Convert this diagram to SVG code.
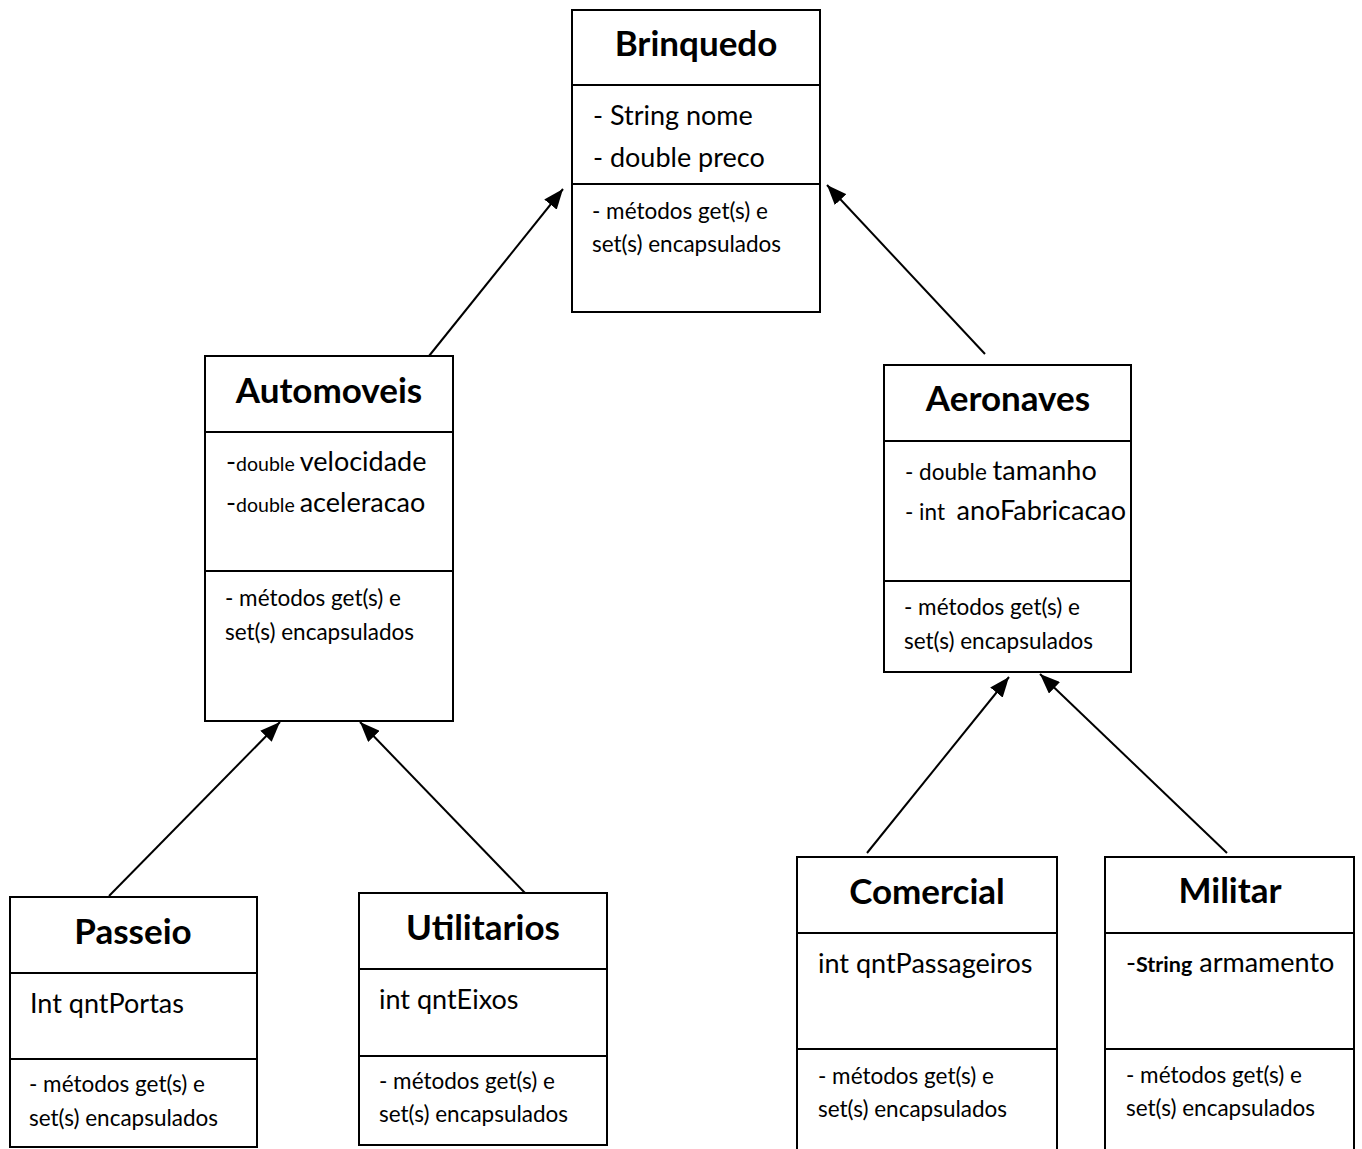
<svg xmlns="http://www.w3.org/2000/svg" width="1362" height="1149" viewBox="0 0 1362 1149">
<style>
  .box{fill:#fff;stroke:#000;stroke-width:2}
  .ln{stroke:#000;stroke-width:2;fill:none}
  text{font-family:Lato,"Liberation Sans",sans-serif;fill:#000;white-space:pre}
  .t{font-weight:bold;font-size:35px;text-anchor:middle}
  .a{font-size:27px}
  .s{font-size:19.5px}
  .m{font-size:22.5px}
  .b{font-weight:bold;font-size:21.5px}
</style>
<defs>
  <marker id="arr" viewBox="0 0 20 16" refX="20" refY="8" markerWidth="20" markerHeight="16" orient="auto" markerUnits="userSpaceOnUse">
    <path d="M0,0 L20,8 L0,16 Z" fill="#000"/>
  </marker>
</defs>

<g id="connectors">
  <line class="ln" x1="429" y1="356" x2="563" y2="189" marker-end="url(#arr)"/>
  <line class="ln" x1="985" y1="354" x2="827" y2="185" marker-end="url(#arr)"/>
  <line class="ln" x1="109" y1="896" x2="280" y2="722" marker-end="url(#arr)"/>
  <line class="ln" x1="525" y1="893" x2="360" y2="722" marker-end="url(#arr)"/>
  <line class="ln" x1="867" y1="853" x2="1009" y2="677" marker-end="url(#arr)"/>
  <line class="ln" x1="1227" y1="853" x2="1040" y2="674" marker-end="url(#arr)"/>
</g>

<g id="brinquedo">
  <rect class="box" x="572" y="10" width="248" height="302"/>
  <line class="ln" x1="572" y1="85" x2="820" y2="85"/>
  <line class="ln" x1="572" y1="184" x2="820" y2="184"/>
  <text class="t" x="696" y="56">Brinquedo</text>
  <text class="a" x="593" y="125">- String nome</text>
  <text class="a" x="593" y="167">- double preco</text>
  <text class="m" x="592" y="219">- métodos get(s) e</text>
  <text class="m" x="592" y="252">set(s) encapsulados</text>
</g>

<g id="automoveis">
  <rect class="box" x="205" y="356" width="248" height="365"/>
  <line class="ln" x1="205" y1="432" x2="453" y2="432"/>
  <line class="ln" x1="205" y1="571" x2="453" y2="571"/>
  <text class="t" x="329" y="403">Automoveis</text>
  <text class="a" x="226" y="471">-<tspan class="s">double </tspan>velocidade</text>
  <text class="a" x="226" y="512">-<tspan class="s">double </tspan>aceleracao</text>
  <text class="m" x="225" y="606">- métodos get(s) e</text>
  <text class="m" x="225" y="640">set(s) encapsulados</text>
</g>

<g id="aeronaves">
  <rect class="box" x="884" y="365" width="247" height="307"/>
  <line class="ln" x1="884" y1="441" x2="1131" y2="441"/>
  <line class="ln" x1="884" y1="581" x2="1131" y2="581"/>
  <text class="t" x="1008" y="411">Aeronaves</text>
  <text class="a" x="905" y="480"><tspan class="m">- double </tspan>tamanho</text>
  <text class="a" x="905" y="520"><tspan class="m">- int  </tspan>anoFabricacao</text>
  <text class="m" x="904" y="615">- métodos get(s) e</text>
  <text class="m" x="904" y="649">set(s) encapsulados</text>
</g>

<g id="passeio">
  <rect class="box" x="10" y="897" width="247" height="250"/>
  <line class="ln" x1="10" y1="973" x2="257" y2="973"/>
  <line class="ln" x1="10" y1="1059" x2="257" y2="1059"/>
  <text class="t" x="133" y="944">Passeio</text>
  <text class="a" x="30" y="1013">Int qntPortas</text>
  <text class="m" x="29" y="1092">- métodos get(s) e</text>
  <text class="m" x="29" y="1126">set(s) encapsulados</text>
</g>

<g id="utilitarios">
  <rect class="box" x="359" y="893" width="248" height="252"/>
  <line class="ln" x1="359" y1="969" x2="607" y2="969"/>
  <line class="ln" x1="359" y1="1056" x2="607" y2="1056"/>
  <text class="t" x="483" y="940">Utilitarios</text>
  <text class="a" x="379" y="1009">int qntEixos</text>
  <text class="m" x="379" y="1089">- métodos get(s) e</text>
  <text class="m" x="379" y="1122">set(s) encapsulados</text>
</g>

<g id="comercial">
  <rect class="box" x="797" y="857" width="260" height="300"/>
  <line class="ln" x1="797" y1="933" x2="1057" y2="933"/>
  <line class="ln" x1="797" y1="1049" x2="1057" y2="1049"/>
  <text class="t" x="927" y="904">Comercial</text>
  <text class="a" x="818" y="973">int qntPassageiros</text>
  <text class="m" x="818" y="1084">- métodos get(s) e</text>
  <text class="m" x="818" y="1117">set(s) encapsulados</text>
</g>

<g id="militar">
  <rect class="box" x="1105" y="857" width="249" height="300"/>
  <line class="ln" x1="1105" y1="933" x2="1354" y2="933"/>
  <line class="ln" x1="1105" y1="1049" x2="1354" y2="1049"/>
  <text class="t" x="1230" y="903">Militar</text>
  <text class="a" x="1126" y="972">-<tspan class="b">String</tspan> armamento</text>
  <text class="m" x="1126" y="1083">- métodos get(s) e</text>
  <text class="m" x="1126" y="1116">set(s) encapsulados</text>
</g>
</svg>
